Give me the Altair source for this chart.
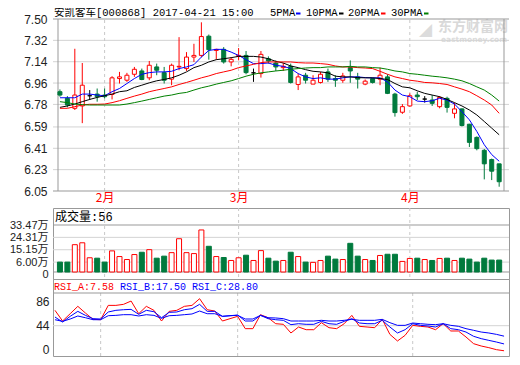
import altair as alt
import pandas as pd

# ---------------- data ----------------
IDX = list(range(60))
OPEN = [6.887, 6.831, 6.747, 6.767, 6.853, 6.867, 6.859, 6.864, 6.998, 6.984,
        7.034, 7.062, 7.004, 7.096, 7.048, 6.993, 7.096, 7.082, 7.179, 7.193,
        7.355, 7.235, 7.244, 7.138, 7.185, 7.193, 7.046, 7.040, 7.165, 7.129,
        7.090, 7.101, 6.948, 7.026, 6.951, 6.965, 7.054, 6.998, 6.984, 7.090,
        7.012, 6.951, 6.998, 6.993, 7.012, 6.867, 6.714, 6.767, 6.859, 6.825,
        6.817, 6.761, 6.831, 6.705, 6.742, 6.613, 6.502, 6.393, 6.315, 6.279]
CLOSE = [6.859, 6.775, 6.859, 6.942, 6.853, 6.845, 6.845, 7.004, 7.012, 7.026,
         7.076, 6.990, 7.110, 7.068, 6.984, 7.110, 7.101, 7.179, 7.193, 7.352,
         7.241, 7.244, 7.138, 7.160, 7.193, 7.048, 7.046, 7.202, 7.146, 7.096,
         7.101, 6.965, 7.012, 6.984, 6.984, 7.034, 6.993, 6.984, 7.020, 7.062,
         6.993, 6.976, 6.965, 7.026, 6.873, 6.711, 6.761, 6.853, 6.845, 6.825,
         6.789, 6.839, 6.755, 6.742, 6.602, 6.460, 6.407, 6.279, 6.217, 6.128]
HIGH = [6.906, 6.850, 7.249, 7.129, 6.901, 6.914, 6.914, 7.018, 7.054, 7.046,
        7.096, 7.082, 7.146, 7.124, 7.096, 7.124, 7.347, 7.221, 7.291, 7.472,
        7.369, 7.249, 7.263, 7.179, 7.255, 7.230, 7.082, 7.230, 7.185, 7.151,
        7.129, 7.124, 7.040, 7.046, 7.026, 7.054, 7.082, 7.026, 7.046, 7.151,
        7.046, 6.990, 7.006, 7.090, 7.034, 6.878, 6.783, 6.873, 6.887, 6.850,
        6.859, 6.850, 6.845, 6.795, 6.747, 6.616, 6.510, 6.404, 6.323, 6.279]
LOW = [6.845, 6.755, 6.733, 6.622, 6.817, 6.803, 6.831, 6.822, 6.956, 6.970,
       7.012, 6.984, 6.984, 7.026, 6.956, 6.942, 7.068, 7.062, 7.138, 7.179,
       7.157, 7.157, 7.124, 7.101, 7.151, 7.034, 6.970, 7.006, 7.124, 7.062,
       7.062, 6.956, 6.901, 6.956, 6.951, 6.956, 6.970, 6.928, 6.962, 6.962,
       6.914, 6.942, 6.956, 6.942, 6.867, 6.677, 6.700, 6.761, 6.817, 6.795,
       6.767, 6.747, 6.711, 6.663, 6.594, 6.421, 6.393, 6.148, 6.142, 6.086]
VOLUME = [6.0, 6.0, 18.9, 20.3, 9.2, 8.9, 6.0, 14.3, 10.1, 7.9,
          11.6, 13.3, 15.2, 8.9, 10.4, 13.0, 23.3, 13.0, 12.3, 29.8,
          17.7, 10.1, 9.4, 7.2, 9.2, 11.1, 7.2, 14.5, 8.9, 6.7,
          7.2, 13.3, 10.1, 6.0, 5.8, 7.2, 10.4, 8.2, 7.9, 19.9,
          10.4, 7.9, 7.2, 10.9, 11.8, 11.8, 6.5, 8.7, 8.9, 7.9,
          7.2, 8.7, 8.9, 7.2, 8.9, 8.2, 6.0, 8.9, 7.5, 7.5]
MA5 = [6.836, 6.836, 6.836, 6.867, 6.867, 6.859, 6.853, 6.887, 6.914, 6.956,
       6.998, 7.034, 7.048, 7.054, 7.054, 7.059, 7.082, 7.096, 7.115, 7.179,
       7.235, 7.244, 7.244, 7.221, 7.193, 7.157, 7.124, 7.124, 7.129, 7.110,
       7.101, 7.082, 7.040, 7.012, 6.998, 7.004, 6.993, 6.993, 7.004, 7.012,
       7.012, 7.006, 7.004, 7.004, 6.970, 6.901, 6.859, 6.845, 6.808, 6.803,
       6.811, 6.831, 6.817, 6.783, 6.719, 6.650, 6.552, 6.440, 6.357, 6.301]
MA10 = [6.755, 6.767, 6.783, 6.803, 6.822, 6.839, 6.853, 6.867, 6.887, 6.895,
        6.923, 6.942, 6.962, 6.979, 6.990, 7.004, 7.026, 7.054, 7.090, 7.110,
        7.138, 7.157, 7.165, 7.174, 7.185, 7.185, 7.185, 7.179, 7.165, 7.143,
        7.129, 7.104, 7.090, 7.073, 7.059, 7.054, 7.046, 7.018, 7.012, 7.012,
        7.006, 7.004, 7.004, 6.998, 6.990, 6.956, 6.928, 6.920, 6.895, 6.873,
        6.859, 6.845, 6.822, 6.795, 6.767, 6.733, 6.691, 6.636, 6.580, 6.524]
MA20 = [6.747, 6.747, 6.761, 6.775, 6.781, 6.781, 6.783, 6.795, 6.811, 6.831,
        6.850, 6.867, 6.887, 6.901, 6.914, 6.928, 6.948, 6.965, 6.984, 7.004,
        7.020, 7.040, 7.054, 7.068, 7.090, 7.104, 7.118, 7.132, 7.138, 7.138,
        7.138, 7.138, 7.132, 7.129, 7.129, 7.124, 7.118, 7.104, 7.096, 7.096,
        7.090, 7.087, 7.082, 7.059, 7.034, 7.012, 6.998, 6.984, 6.976, 6.965,
        6.962, 6.956, 6.948, 6.928, 6.909, 6.887, 6.853, 6.817, 6.775, 6.705]
MA30 = [6.803, 6.795, 6.783, 6.778, 6.775, 6.775, 6.775, 6.775, 6.775, 6.783,
        6.795, 6.808, 6.822, 6.836, 6.850, 6.859, 6.873, 6.881, 6.901, 6.920,
        6.934, 6.951, 6.965, 6.979, 6.998, 7.018, 7.034, 7.046, 7.054, 7.062,
        7.068, 7.076, 7.082, 7.087, 7.090, 7.090, 7.096, 7.096, 7.096, 7.101,
        7.096, 7.096, 7.090, 7.087, 7.076, 7.062, 7.054, 7.040, 7.034, 7.026,
        7.018, 7.012, 7.004, 6.993, 6.979, 6.956, 6.928, 6.901, 6.859, 6.808]
RSI_A = [66.3, 50.8, 61.4, 72.1, 62.4, 53.2, 52.7, 73.5, 73.5, 75.0,
         79.8, 61.4, 72.1, 66.3, 50.8, 64.8, 66.3, 72.1, 73.5, 83.2,
         67.2, 65.3, 50.8, 54.2, 57.6, 39.7, 39.7, 60.0, 55.6, 46.9,
         46.0, 33.4, 42.1, 38.2, 38.2, 48.4, 41.1, 39.7, 46.9, 59.0,
         43.1, 42.1, 41.1, 53.2, 31.4, 21.8, 30.0, 44.5, 43.1, 42.1,
         38.2, 46.9, 36.3, 36.3, 27.6, 17.9, 14.5, 12.1, 9.2, 7.58]
RSI_B = [56.6, 49.3, 57.6, 64.8, 59.0, 54.2, 53.7, 63.9, 66.3, 67.2,
         67.7, 60.5, 66.3, 64.3, 55.6, 63.4, 63.9, 67.2, 68.7, 75.0,
         64.8, 64.8, 57.6, 58.5, 59.5, 50.8, 50.8, 59.0, 54.2, 52.7,
         51.8, 45.5, 46.9, 46.0, 46.0, 50.3, 46.9, 46.0, 50.3, 54.2,
         47.9, 46.9, 46.9, 51.8, 42.1, 33.4, 38.2, 46.9, 44.5, 43.6,
         42.1, 46.9, 39.7, 38.2, 34.8, 28.6, 25.2, 22.7, 20.3, 17.50]
RSI_C = [52.7, 50.3, 53.7, 58.1, 55.6, 52.7, 52.7, 58.5, 59.0, 60.0,
         60.0, 58.1, 60.0, 59.0, 54.7, 58.5, 59.0, 60.0, 61.0, 65.3,
         61.4, 61.4, 57.6, 58.5, 59.0, 53.7, 53.7, 59.0, 55.6, 55.2,
         54.2, 50.8, 50.8, 50.8, 50.8, 51.8, 50.8, 50.8, 51.8, 53.2,
         51.8, 51.8, 51.8, 53.2, 48.4, 44.5, 44.5, 47.9, 46.9, 46.0,
         45.5, 46.9, 44.5, 43.1, 39.7, 37.3, 34.8, 33.4, 31.4, 28.80]
MONTH_IDX = [6, 24, 47]
MONTH_LABELS = ["2月", "3月", "4月"]
PRICE_TICKS = [6.05, 6.23, 6.41, 6.59, 6.78, 6.96, 7.14, 7.32, 7.50]
VOL_FLOOR = -1.33          # bottom line of the volume panel, labelled "0"
VOL_GRID = [6.00, 15.15, 24.31]
VOL_TOP = 33.47
RSI_TICKS = [0, 44, 86]
RSI_GRID = [44]
MA_NAMES = ["MA5", "MA10", "MA20", "MA30"]
LEGEND_LABELS = ["5PMA", "10PMA", "20PMA", "30PMA"]
TITLE = "安凯客车[000868] 2017-04-21 15:00"
VOL_TITLE = "成交量:56"
RSI_LABELS = ["RSI_A:7.58", "RSI_B:17.50", "RSI_C:28.80"]

# ---------------- styling / layout ----------------
UP, DOWN, FLAT = "#ff0000", "#007a3d", "#000000"
BLUE, MA_GREEN = "#0000ff", "#008000"
MA_COLORS = [BLUE, "#000000", "#ff0000", MA_GREEN]
FRAME = "#999999"
GRID = "#d3d3d3"
DASH = "#c8c8c8"
LABEL_C = "#222222"
AXIS_FONT = "Liberation Sans, Noto Sans CJK SC"
HEAD_FONT = "Liberation Mono, Noto Sans CJK SC"
CJK = "Noto Sans CJK SC"
W = 456
H_PRICE, H_VOL, H_RSI = 189, 71, 77
X_DOMAIN = [-0.26, 59.65]
PRICE_DOMAIN = [5.9067, 7.50]
VOL_DOMAIN = [-6.52, 46.06]
RSI_DOMAIN = [0, 111.8]

df = pd.DataFrame({"i": IDX, "open": OPEN, "close": CLOSE, "high": HIGH,
                   "low": LOW, "volume": VOLUME})
df["dir"] = ["up" if c > o else ("down" if c < o else "flat") for o, c in zip(OPEN, CLOSE)]
df["vdir"] = ["down" if c < o else "up" for o, c in zip(OPEN, CLOSE)]

ma_df = pd.DataFrame({
    "i": IDX * 4,
    "series": sum([[n] * len(IDX) for n in MA_NAMES], []),
    "v": MA5 + MA10 + MA20 + MA30,
})
rsi_df = pd.DataFrame({
    "i": IDX * 3,
    "series": sum([[n] * len(IDX) for n in ["A", "B", "C"]], []),
    "v": RSI_A + RSI_B + RSI_C,
})
month_df = pd.DataFrame({"m": MONTH_IDX, "lo": [PRICE_TICKS[0]] * 3, "hi": [PRICE_TICKS[-1]] * 3})

xs = alt.Scale(domain=X_DOMAIN, nice=False, zero=False)
ps = alt.Scale(domain=PRICE_DOMAIN, nice=False, zero=False)
vs = alt.Scale(domain=VOL_DOMAIN, nice=False, zero=False)
rs = alt.Scale(domain=RSI_DOMAIN, nice=False, zero=False)

month_expr = " : ".join(
    [f"datum.value == {m} ? '{lab}'" for m, lab in zip(MONTH_IDX, MONTH_LABELS)]) + " : ''"
x_axis = alt.Axis(values=MONTH_IDX, labelExpr=month_expr, orient="bottom", offset=-17,
                  domain=False, ticks=False, grid=False, labelColor=UP, labelFont=CJK,
                  labelFontSize=12, labelPadding=1, title=None)
price_axis = alt.Axis(values=PRICE_TICKS, format=".2f", title=None, domain=False, ticks=False,
                      grid=False, labelPadding=6, labelFont=AXIS_FONT, labelFontSize=12,
                      labelColor=LABEL_C, labelOverlap=False)
vol_axis = alt.Axis(values=[VOL_FLOOR] + VOL_GRID + [VOL_TOP],
                    labelExpr="datum.value < 0 ? '0' : format(datum.value, '.2f') + '万'",
                    title=None, domain=False, ticks=False, grid=False, labelPadding=5,
                    labelFont=AXIS_FONT, labelFontSize=11, labelColor=LABEL_C,
                    labelOverlap=False,
                    labelOffset={"condition": {"test": "datum.value < 0", "value": 3},
                                 "value": 0})
rsi_axis = alt.Axis(values=RSI_TICKS, title=None, domain=False, ticks=False, grid=False,
                    labelPadding=4, labelFont=AXIS_FONT, labelFontSize=12, labelColor=LABEL_C,
                    labelOverlap=False,
                    labelBaseline={"condition": [{"test": "datum.value >= 80", "value": "top"},
                                                 {"test": "datum.value <= 0", "value": "bottom"}],
                                   "value": "middle"})

XP = alt.X("i:Q", scale=xs, axis=x_axis)
XN = alt.X("i:Q", scale=xs, axis=None)
dir_dom = ["up", "down", "flat"]
stroke_enc = alt.Stroke("dir:N", scale=alt.Scale(domain=dir_dom, range=[UP, DOWN, FLAT]), legend=None)
fill_enc = alt.Fill("dir:N", scale=alt.Scale(domain=dir_dom, range=["#ffffff", DOWN, FLAT]), legend=None)

# ---------------- price panel ----------------
pt_df = pd.DataFrame({"v": PRICE_TICKS})
grid_p = alt.Chart(pt_df.iloc[1:-1]).mark_rule(color=GRID, strokeWidth=1).encode(
    y=alt.Y("v:Q", scale=ps, axis=price_axis))
edge_p = alt.Chart(pt_df.iloc[[0, -1]]).mark_rule(color=FRAME, strokeWidth=1).encode(
    y=alt.Y("v:Q", scale=ps, axis=price_axis))
side_df = pd.DataFrame({"xb": X_DOMAIN, "lo": [PRICE_TICKS[0]] * 2, "hi": [PRICE_TICKS[-1]] * 2})
side_p = alt.Chart(side_df).mark_rule(color=FRAME, strokeWidth=1).encode(
    x=alt.X("xb:Q", scale=xs, axis=x_axis), y=alt.Y("lo:Q", scale=ps, axis=price_axis), y2="hi:Q")
month_p = alt.Chart(month_df).mark_rule(color=DASH, strokeWidth=1, strokeDash=[3, 3]).encode(
    x=alt.X("m:Q", scale=xs, axis=x_axis), y=alt.Y("lo:Q", scale=ps, axis=price_axis), y2="hi:Q")
wick = alt.Chart(df).mark_rule(strokeWidth=1).encode(
    x=XP, y=alt.Y("low:Q", scale=ps, axis=price_axis), y2="high:Q", stroke=stroke_enc)
body = alt.Chart(df).mark_bar(size=4, strokeWidth=1).encode(
    x=XP, y=alt.Y("open:Q", scale=ps, axis=price_axis), y2="close:Q",
    stroke=stroke_enc, fill=fill_enc)
ma_lines = alt.Chart(ma_df).mark_line(strokeWidth=1).encode(
    x=XP, y=alt.Y("v:Q", scale=ps, axis=price_axis),
    color=alt.Color("series:N", scale=alt.Scale(domain=MA_NAMES, range=MA_COLORS), legend=None))

one = pd.DataFrame({"t": [0]})
header = [alt.Chart(one).mark_text(text=TITLE, font=HEAD_FONT, fontSize=10.5, align="left",
                                   baseline="top", color="#000000").encode(
    x=alt.value(1), y=alt.value(-11))]
leg_text_x = [217, 253, 295, 338]
leg_sw_x = [243, 286, 328, 371]
for lab, col, tx, sx in zip(LEGEND_LABELS, MA_COLORS, leg_text_x, leg_sw_x):
    header.append(alt.Chart(one).mark_text(text=lab, font=HEAD_FONT, fontSize=10.5, align="left",
                                           baseline="top", color="#000000").encode(
        x=alt.value(tx), y=alt.value(-11)))
    header.append(alt.Chart(one).mark_rect(color=col).encode(
        x=alt.value(sx), x2=alt.value(sx + 4.5), y=alt.value(-6.5), y2=alt.value(-4.5)))
water = [
    alt.Chart(one).mark_text(text="东方财富网", font=CJK, fontSize=14, fontWeight="bold",
                             align="left", baseline="middle", color="#d9d9d9").encode(
        x=alt.value(385), y=alt.value(8)),
    alt.Chart(one).mark_text(text="eastmoney.com", font="DejaVu Sans", fontSize=7.5,
                             fontWeight="bold", align="left", baseline="middle",
                             color="#dcdcdc").encode(x=alt.value(388), y=alt.value(21)),
    alt.Chart(one).mark_text(text="◢", font="DejaVu Sans", fontSize=17, align="left",
                             baseline="middle", color="#dcdcdc").encode(
        x=alt.value(366), y=alt.value(11)),
]

price = alt.layer(*water, grid_p, month_p, edge_p, side_p, wick, body, ma_lines, *header).properties(
    width=W, height=H_PRICE, view=alt.ViewBackground(strokeOpacity=0))

# ---------------- volume panel ----------------
grid_v = alt.Chart(pd.DataFrame({"v": VOL_GRID})).mark_rule(color=GRID, strokeWidth=1).encode(
    y=alt.Y("v:Q", scale=vs, axis=vol_axis))
edge_v = alt.Chart(pd.DataFrame({"v": [VOL_FLOOR, VOL_TOP]})).mark_rule(
    color=FRAME, strokeWidth=1).encode(y=alt.Y("v:Q", scale=vs, axis=vol_axis))
month_v = alt.Chart(month_df).mark_rule(color=DASH, strokeWidth=1, strokeDash=[3, 3]).encode(
    x=alt.X("m:Q", scale=xs, axis=None), y=alt.value(0), y2=alt.value(H_VOL))
vbars = alt.Chart(df).mark_bar(size=5, strokeWidth=1).encode(
    x=XN, y=alt.Y("volume:Q", scale=vs, axis=vol_axis), y2=alt.datum(VOL_FLOOR),
    stroke=alt.Stroke("vdir:N", scale=alt.Scale(domain=["up", "down"], range=[UP, DOWN]), legend=None),
    fill=alt.Fill("vdir:N", scale=alt.Scale(domain=["up", "down"], range=["#ffffff", DOWN]), legend=None))
vol_head = alt.Chart(one).mark_text(text=VOL_TITLE, font=HEAD_FONT, fontSize=12, align="left",
                                    baseline="middle", color="#000000").encode(
    x=alt.value(2), y=alt.value(9))
volume = alt.layer(grid_v, month_v, edge_v, vbars, vol_head).properties(
    width=W, height=H_VOL, view=alt.ViewBackground(stroke=FRAME, strokeWidth=1))

# ---------------- RSI panel ----------------
grid_r = alt.Chart(pd.DataFrame({"v": RSI_GRID})).mark_rule(color=GRID, strokeWidth=1).encode(
    y=alt.Y("v:Q", scale=rs, axis=rsi_axis))
sep_r = alt.Chart(one).mark_rule(color=FRAME, strokeWidth=1).encode(
    y=alt.value(14), x=alt.value(0), x2=alt.value(W))
month_r = alt.Chart(month_df).mark_rule(color=DASH, strokeWidth=1, strokeDash=[3, 3]).encode(
    x=alt.X("m:Q", scale=xs, axis=None), y=alt.value(14), y2=alt.value(H_RSI))
rsi_lines = alt.Chart(rsi_df).mark_line(strokeWidth=1).encode(
    x=XN, y=alt.Y("v:Q", scale=rs, axis=rsi_axis),
    color=alt.Color("series:N", scale=alt.Scale(domain=["A", "B", "C"], range=[UP, BLUE, BLUE]),
                    legend=None))
rsi_heads = []
for lab, col, tx in zip(RSI_LABELS, [UP, BLUE, BLUE], [1, 67, 139]):
    rsi_heads.append(alt.Chart(one).mark_text(text=lab, font=HEAD_FONT, fontSize=10, align="left",
                                              baseline="middle", color=col).encode(
        x=alt.value(tx), y=alt.value(8)))
rsi = alt.layer(grid_r, month_r, sep_r, rsi_lines, *rsi_heads).properties(
    width=W, height=H_RSI, view=alt.ViewBackground(stroke=FRAME, strokeWidth=1))

chart = alt.vconcat(price, volume, rsi, spacing=0, bounds="flush").resolve_scale(
    x="independent", y="independent", color="independent", fill="independent",
    stroke="independent").properties(
    padding={"left": 0, "top": 0, "right": 0, "bottom": 0}, background="#ffffff")

chart.save("out.html", embed_options={"renderer": "svg", "actions": False})
